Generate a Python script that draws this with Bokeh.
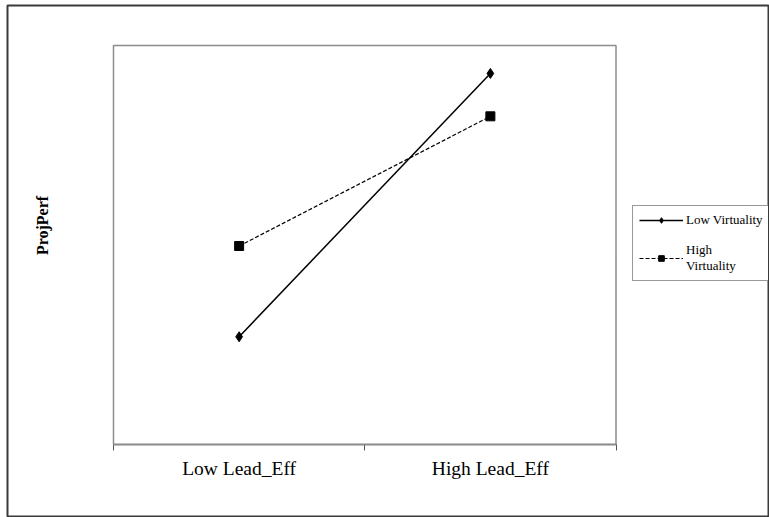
from bokeh.plotting import figure
from bokeh.models import (FixedTicker, Legend, LegendItem, Label, Range1d,
                          LinearAxis, BoxAnnotation)
from bokeh.embed import file_html
from bokeh.resources import INLINE

categories = ["Low Lead_Eff", "High Lead_Eff"]
x_pos = [0.5, 1.5]
cat_bounds = [0, 1, 2]
low_virtuality = [1.08, 3.72]
high_virtuality = [1.99, 3.29]
series_names = ["Low Virtuality", "High\nVirtuality"]
y_title = "ProjPerf"
y_lim = (0, 4)
x_lim = (0, 2)

FONT = "Liberation Serif"
FONT_Q = "'Liberation Serif', 'DejaVu Serif', serif"

# pixel layout (absolute page px)
FIG_X, FIG_Y, FIG_W, FIG_H = 6, 4, 763, 513
FR_L, FR_T = FIG_X + 1, FIG_Y + 1
FR_R, FR_B = FIG_X + FIG_W - 1, FIG_Y + FIG_H - 1
PA_L, PA_T, PA_R, PA_B = 113, 45, 615.5, 444

sx = (PA_R - PA_L) / (x_lim[1] - x_lim[0])
sy = (PA_B - PA_T) / (y_lim[1] - y_lim[0])
xr = Range1d(x_lim[0] - (PA_L - FR_L) / sx, x_lim[1] + (FR_R - PA_R) / sx)
yr = Range1d(y_lim[0] - (FR_B - PA_B) / sy, y_lim[1] + (PA_T - FR_T) / sy)

p = figure(width=FIG_W, height=FIG_H, output_backend="svg", toolbar_location=None,
           x_range=xr, y_range=yr, x_axis_location=None, y_axis_location=None,
           min_border_left=1, min_border_right=1, min_border_top=1,
           min_border_bottom=1, margin=(FIG_Y, 0, 0, FIG_X))
p.grid.visible = False
p.outline_line_color = "#3a3a3a"
p.outline_line_width = 2
p.background_fill_color = "white"
p.border_fill_color = "white"

# plot area box
p.add_layout(BoxAnnotation(left=x_lim[0], right=x_lim[1], bottom=y_lim[0], top=y_lim[1],
                           fill_alpha=0, line_color="#8c8c8c", line_width=1.5,
                           line_alpha=1))

xa = LinearAxis(fixed_location=y_lim[0], bounds=x_lim)
xa.ticker = FixedTicker(ticks=x_pos, minor_ticks=cat_bounds)
xa.major_label_overrides = {x_pos[i]: categories[i] for i in range(len(categories))}
xa.major_tick_line_color = None
xa.major_tick_out = 0
xa.major_tick_in = 0
xa.minor_tick_out = 6
xa.minor_tick_in = 0
xa.minor_tick_line_color = "#555555"
xa.minor_tick_line_width = 1
xa.axis_line_color = "#555555"
xa.axis_line_width = 1.5
xa.major_label_text_font = FONT
xa.major_label_text_font_size = "19.5px"
xa.major_label_text_color = "black"
xa.major_label_standoff = 7
p.add_layout(xa, "below")

r1l = p.line(x_pos, low_virtuality, line_color="black", line_width=1.5)
r1m = p.scatter(x_pos, low_virtuality, marker="diamond", size=10,
                fill_color="black", line_color="black")
r2l = p.line(x_pos, high_virtuality, line_color="black", line_width=1.2,
             line_dash="4 2")
r2m = p.scatter(x_pos, high_virtuality, marker="square", size=9,
                fill_color="black", line_color="black")

legend = Legend(items=[LegendItem(label=series_names[0], renderers=[r1l, r1m]),
                       LegendItem(label=series_names[1], renderers=[r2l, r2m])],
                location=(632 - FR_L, FR_B - 281))
legend.label_text_font = FONT_Q
legend.label_text_font_size = "13px"
legend.label_text_color = "black"
legend.glyph_width = 44
legend.glyph_height = 14
legend.label_standoff = 3
legend.label_width = 86
legend.padding = 6
legend.spacing = 14
legend.margin = 0
legend.border_line_color = "#333333"
legend.border_line_width = 1
legend.background_fill_alpha = 1
legend.label_height = 14
p.add_layout(legend)

lbl = Label(x=x_lim[0] - (PA_L - 42) / sx, y=y_lim[0] + (PA_B - 225) / sy,
            text=y_title, angle=90, angle_units="deg",
            text_font=FONT_Q, text_font_size="16px", text_font_style="bold",
            text_align="center", text_baseline="middle", text_color="black")
p.add_layout(lbl)

open("out.html", "w").write(file_html(p, INLINE))
